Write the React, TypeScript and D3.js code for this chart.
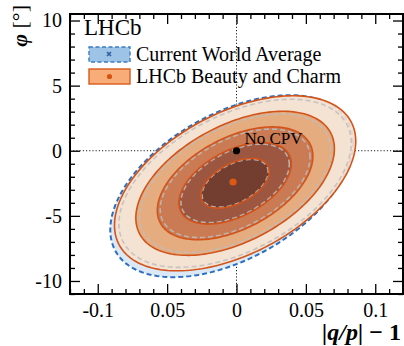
import React, { useEffect, useRef } from 'react';
import * as d3 from 'd3';

// axis ticks
const xTicks = [-0.1, -0.05, 0, 0.05, 0.1];
const xTickLabels = ['-0.1', '0.05', '0', '0.05', '0.1'];
const yTicks = [10, 5, 0, -5, -10];
const yTickLabels = ['10', '5', '0', '-5', '-10'];

// contour levels (sqrt of chi2 for 1..5 sigma, 2 dof)
const levels = [1.515, 2.486, 3.439, 4.39, 5.334];
const bandColors = ['#6f3b2f', '#98523d', '#c6754f', '#e3a677', '#f6e1cf'];

// LHCb Beauty and Charm: centre, sigmas, correlation
const lhcbCenter = [-0.001, -2.5];
const lhcbSigma = [0.0163, 1.26];
const lhcbRho = 0.48;
const lhcbBest = [-0.0025, -2.4];

// dashed grey contours
const greySigma = [0.0157, 1.21];

// current world average
const waCenter = [-0.0035, -2.72];
const waSigma = [0.0164, 1.31];
const waRho = 0.48;
const waBest = [-0.005, -2.4];

const noCpv = [0, 0];

const W = 404;
const H = 346;
const FONT = "'Liberation Serif', 'DejaVu Serif', serif";

function ellipse(c: number[], s: number[], rho: number, k: number) {
  const r = Math.sqrt(1 - rho * rho);
  return d3.range(0, 181).map((i) => {
    const t = (i / 180) * Math.PI * 2;
    return [c[0] + k * s[0] * Math.cos(t), c[1] + k * s[1] * (rho * Math.cos(t) + r * Math.sin(t))];
  });
}

function Chart() {
  const svgRef = useRef<SVGSVGElement>(null);

  useEffect(() => {
    const svg = d3.select(svgRef.current);
    svg.selectAll('*').remove();

    const x = d3.scaleLinear().domain([-0.12, 0.12]).range([70, 403]);
    const y = d3.scaleLinear().domain([-11, 10.5]).range([294, 14]);
    const line = d3
      .line<number[]>()
      .x((d) => x(d[0]))
      .y((d) => y(d[1]))
      .curve(d3.curveLinearClosed);

    svg.append('rect').attr('width', W).attr('height', H).attr('fill', 'white');

    const plot = svg.append('g');

    // no-CPV guide lines
    plot.append('line')
      .attr('x1', x(0)).attr('x2', x(0)).attr('y1', 14).attr('y2', 294)
      .attr('stroke', '#222').attr('stroke-width', 1).attr('stroke-dasharray', '1.2,2');
    plot.append('line')
      .attr('x1', 70).attr('x2', 403).attr('y1', y(0)).attr('y2', y(0))
      .attr('stroke', '#222').attr('stroke-width', 1).attr('stroke-dasharray', '1.2,2');

    // world average
    plot.append('path')
      .attr('d', line(ellipse(waCenter, waSigma, waRho, levels[4])))
      .attr('fill', '#dbe8f5')
      .attr('stroke', '#2c6fbe').attr('stroke-width', 2).attr('stroke-dasharray', '5,3');

    // LHCb filled bands, outer to inner
    const order = [4, 3, 2, 1, 0];
    order.forEach((i) => {
      plot.append('path')
        .attr('d', line(ellipse(lhcbCenter, lhcbSigma, lhcbRho, levels[i])))
        .attr('fill', bandColors[i]).attr('fill-opacity', 0.9);
    });

    order.forEach((i) => {
      plot.append('path')
        .attr('d', line(ellipse(lhcbCenter, greySigma, lhcbRho, levels[i])))
        .attr('fill', 'none')
        .attr('stroke', '#bdbdbd').attr('stroke-width', 1.6).attr('stroke-dasharray', '5,3')
        .attr('stroke-opacity', 0.85);
    });

    order.forEach((i) => {
      plot.append('path')
        .attr('d', line(ellipse(lhcbCenter, lhcbSigma, lhcbRho, levels[i])))
        .attr('fill', 'none')
        .attr('stroke', '#d2541a').attr('stroke-width', 1.6);
    });

    // markers
    const wx = x(waBest[0]);
    const wy = y(waBest[1]);
    plot.append('path')
      .attr('d', `M${wx - 2.5},${wy - 2.5}L${wx + 2.5},${wy + 2.5}M${wx - 2.5},${wy + 2.5}L${wx + 2.5},${wy - 2.5}`)
      .attr('stroke', '#5a4a48').attr('stroke-width', 1.4);
    plot.append('circle')
      .attr('cx', x(lhcbBest[0])).attr('cy', y(lhcbBest[1])).attr('r', 3.6)
      .attr('fill', '#e0580f');
    plot.append('circle')
      .attr('cx', x(noCpv[0])).attr('cy', y(noCpv[1])).attr('r', 3.6)
      .attr('fill', 'black');
    plot.append('text')
      .attr('x', x(noCpv[0]) + 8).attr('y', y(noCpv[1]) - 7)
      .attr('font-family', FONT).attr('font-size', 17)
      .text('No CPV');

    // axes
    const styleAxis = (g: any) => {
      g.select('.domain').remove();
      g.selectAll('line').attr('stroke', 'black').attr('stroke-width', 1.3);
      g.selectAll('text').attr('font-family', FONT).attr('font-size', 20).attr('fill', 'black');
    };
    const minorX = d3.range(-12, 13).map((i) => i / 100).filter((v) => Math.abs(v * 100) % 5 !== 0);
    const minorY = d3.range(-11, 11).filter((v) => v % 5 !== 0);

    svg.append('g').attr('transform', 'translate(0,294)')
      .call(d3.axisBottom(x).tickValues(xTicks).tickSize(-10).tickPadding(9)
        .tickFormat((d, i) => xTickLabels[i]))
      .call(styleAxis);
    svg.append('g').attr('transform', 'translate(0,294)')
      .call(d3.axisBottom(x).tickValues(minorX).tickSize(-5).tickFormat(() => ''))
      .call(styleAxis);
    svg.append('g').attr('transform', 'translate(0,14)')
      .call(d3.axisTop(x).tickValues(xTicks).tickSize(-10).tickFormat(() => ''))
      .call(styleAxis);
    svg.append('g').attr('transform', 'translate(0,14)')
      .call(d3.axisTop(x).tickValues(minorX).tickSize(-5).tickFormat(() => ''))
      .call(styleAxis);
    svg.append('g').attr('transform', 'translate(70,0)')
      .call(d3.axisLeft(y).tickValues(yTicks).tickSize(-10).tickPadding(8)
        .tickFormat((d, i) => yTickLabels[i]))
      .call(styleAxis);
    svg.append('g').attr('transform', 'translate(70,0)')
      .call(d3.axisLeft(y).tickValues(minorY).tickSize(-5).tickFormat(() => ''))
      .call(styleAxis);
    svg.append('g').attr('transform', 'translate(403,0)')
      .call(d3.axisRight(y).tickValues(yTicks).tickSize(-10).tickFormat(() => ''))
      .call(styleAxis);
    svg.append('g').attr('transform', 'translate(403,0)')
      .call(d3.axisRight(y).tickValues(minorY).tickSize(-5).tickFormat(() => ''))
      .call(styleAxis);

    svg.append('rect')
      .attr('x', 70).attr('y', 14).attr('width', 333).attr('height', 280)
      .attr('fill', 'none').attr('stroke', 'black').attr('stroke-width', 2);

    // axis titles
    const xt = svg.append('text')
      .attr('x', 401).attr('y', 340).attr('text-anchor', 'end')
      .attr('font-family', FONT).attr('font-size', 24).attr('font-weight', 'bold');
    xt.append('tspan').attr('font-style', 'italic').text('|q/p|');
    xt.append('tspan').text(' \u2212 1');

    const yt = svg.append('text')
      .attr('transform', 'translate(27,5) rotate(-90)').attr('text-anchor', 'end')
      .attr('font-family', FONT).attr('font-size', 22);
    yt.append('tspan').attr('font-style', 'italic').attr('font-weight', 'bold').text('\u03c6');
    yt.append('tspan').text(' [\u00b0]');

    // legend
    svg.append('text')
      .attr('x', 84).attr('y', 35)
      .attr('font-family', FONT).attr('font-size', 23)
      .text('LHCb');

    const leg = svg.append('g');
    leg.append('rect')
      .attr('x', 89).attr('y', 47).attr('width', 41).attr('height', 15)
      .attr('fill', '#9dc4e6').attr('stroke', '#3b7cc4').attr('stroke-width', 1.4)
      .attr('stroke-dasharray', '4,2.5');
    leg.append('path')
      .attr('d', 'M107,52L111,56M107,56L111,52')
      .attr('stroke', '#2c5f9e').attr('stroke-width', 1.6);
    leg.append('text')
      .attr('x', 136).attr('y', 61)
      .attr('font-family', FONT).attr('font-size', 20)
      .text('Current World Average');

    leg.append('rect')
      .attr('x', 89).attr('y', 69).attr('width', 41).attr('height', 15)
      .attr('fill', '#f8ad78').attr('stroke', '#d75a1b').attr('stroke-width', 1.4);
    leg.append('circle')
      .attr('cx', 109.5).attr('cy', 76.5).attr('r', 2.6)
      .attr('fill', '#d8530f');
    leg.append('text')
      .attr('x', 136).attr('y', 83)
      .attr('font-family', FONT).attr('font-size', 20)
      .text('LHCb Beauty and Charm');
  }, []);

  return (
    <svg
      ref={svgRef}
      width={W}
      height={H}
      style={{ position: 'absolute', left: 0, top: 0 }}
    />
  );
}

export default function App() {
  return <Chart />;
}
